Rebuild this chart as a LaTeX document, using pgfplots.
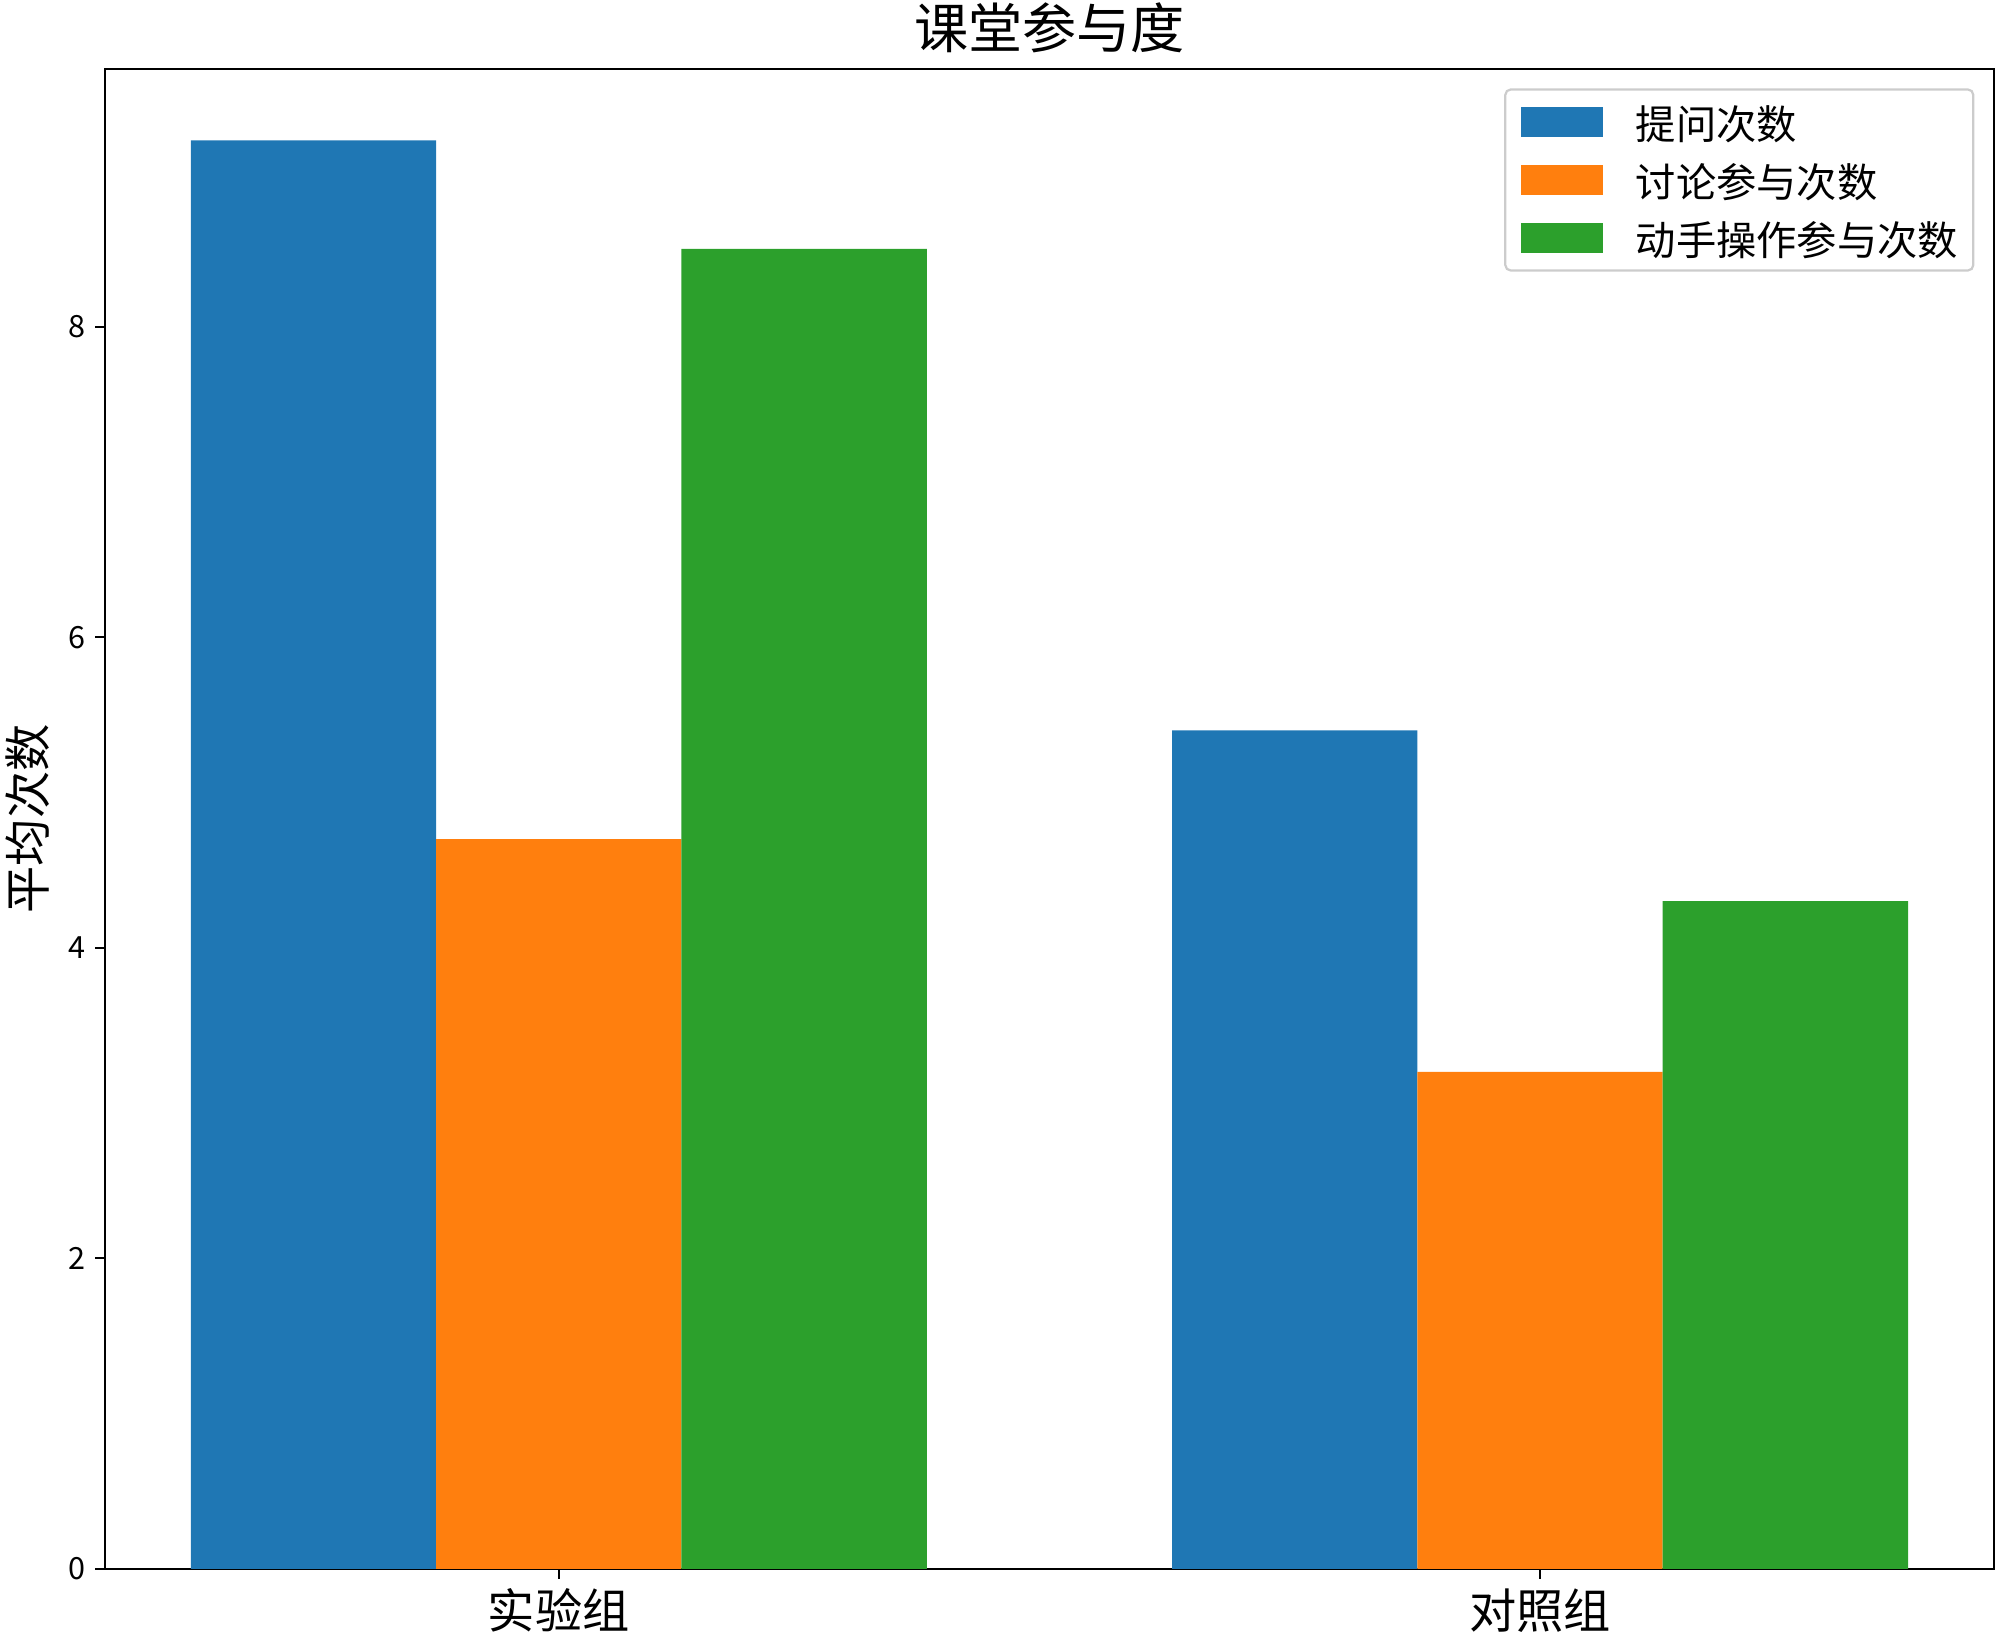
\documentclass[border=0pt]{standalone}
\usepackage{pgfplots}
\pgfplotsset{compat=1.18}
\usepackage{fontspec}
\setmainfont{Noto Sans CJK SC}

\definecolor{c0}{HTML}{1F77B4}
\definecolor{c1}{HTML}{FF7F0E}
\definecolor{c2}{HTML}{2CA02C}

\begin{document}
\begin{tikzpicture}
\begin{axis}[
    width=680pt,
    height=540pt,
    scale only axis,
    xmin=-0.4625, xmax=1.4625,
    ymin=0, ymax=9.66,
    xtick={0,1},
    xticklabels={实验组,对照组},
    ytick={0,2,4,6,8},
    tick align=outside,
    major tick length=3.5pt,
    xtick pos=bottom,
    ytick pos=left,
    axis line style={line width=0.8pt},
    tick style={line width=0.8pt, black},
    /pgf/number format/assume math mode=true,
    yticklabel style={font=\fontsize{11}{13}\selectfont},
    xticklabel style={font=\fontsize{17}{19}\selectfont},
    ylabel={平均次数},
    ylabel style={font=\fontsize{17}{19}\selectfont},
    title={课堂参与度},
    title style={font=\fontsize{19.5}{22}\selectfont,
        at={(0.5,1)}, anchor=south, inner sep=0pt, yshift=-0.5pt},
    legend cell align=left,
    legend image code/.code={
        \fill[#1, sharp corners, fill opacity=1] (0pt,-3.05pt) rectangle (29.5pt,7.45pt);
        \path (0pt,-7pt) (41.5pt,11.4pt);
    },
    legend style={
        at={(1,1)}, anchor=north east,
        xshift=-7pt, yshift=-7pt,
        draw=black!20, line width=0.8pt, rounded corners=2pt,
        fill=white, fill opacity=0.8, text opacity=1,
        inner xsep=5.5pt, inner ysep=2.5pt,
        row sep=2.5pt,
        font=\fontsize{14.5}{16}\selectfont,
        nodes={inner sep=0pt, text height=11pt, text depth=3pt},
    },
]

% 提问次数
\addplot[ybar, bar width=0.25, bar shift=-0.25, fill=c0, draw=none]
    coordinates {(0,9.2) (1,5.4)};
\addlegendentry{提问次数}

% 讨论参与次数
\addplot[ybar, bar width=0.25, bar shift=0, fill=c1, draw=none]
    coordinates {(0,4.7) (1,3.2)};
\addlegendentry{讨论参与次数}

% 动手操作参与次数
\addplot[ybar, bar width=0.25, bar shift=0.25, fill=c2, draw=none]
    coordinates {(0,8.5) (1,4.3)};
\addlegendentry{动手操作参与次数}

\end{axis}
\pgfresetboundingbox
\path[use as bounding box] ([shift={(-37.8pt,-26.6pt)}]current axis.south west)
    rectangle ([shift={(2.2pt,24.8pt)}]current axis.north east);
\end{tikzpicture}
\end{document}
